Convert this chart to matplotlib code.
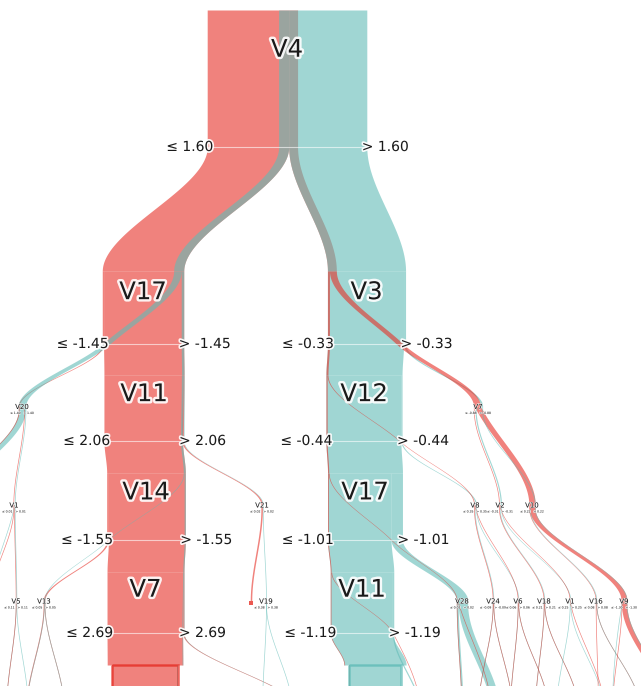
import numpy as np
import matplotlib.pyplot as plt
import matplotlib.patheffects as pe
from matplotlib.patches import Rectangle

# ── tree: first child of a node is the "≤" branch, second the ">" branch ──
names = ["V4",
         "V17", "V3",
         "V20", "V11", "V12", "V7",
         "V27", "V1", "V14", "V21", "V17", "V8", "V2", "V10",
         "V26", "V5", "V13", "V7", "V9", "V19", "V11", "V28", "V24", "V6",
         "V18", "V1", "V16", "V9"] + [""] * 24
thresholds = [1.60,
              -1.45, -0.33,
              1.40, 2.06, -0.44, -0.88,
              0.36, 0.01, -1.55, 0.02, -1.01, 0.35, -0.31, 0.22,
              0.04, 0.11, 0.05, 2.69, 0.44, 0.38, -1.19, 0.02, -0.09, 0.06,
              0.21, 0.25, 0.08, -1.30] + [np.nan] * 24
n_red = [538,
         485, 53,
         8, 477, 12, 41,
         5, 3, 468, 9, 7, 5, 3, 38,
         2, 1, 10, 458, 9, 0, 5, 2, 2, 3, 2, 1, 3, 35,
         1, 0, 6, 4, 450, 8, 0, 0, 3, 2, 1, 1, 1, 1, 2, 1, 1, 1, 0, 1, 2, 1, 3, 32]
n_teal = [525,
          60, 465,
          45, 15, 453, 12,
          42, 3, 12, 3, 446, 7, 7, 5,
          1, 2, 5, 7, 0, 3, 378, 68, 3, 4, 3, 4, 1, 4,
          1, 1, 2, 3, 3, 4, 1, 2, 370, 8, 12, 56, 1, 2, 1, 3, 2, 1, 3, 1, 0, 1, 3, 1]
parents = [-1,
           0, 0,
           1, 1, 2, 2,
           3, 3, 4, 4, 5, 5, 6, 6,
           8, 8, 9, 9, 10, 10, 11, 11, 12, 12, 13, 13, 14, 14,
           16, 16, 17, 17, 18, 18, 20, 20, 21, 21, 22, 22, 23, 23, 24, 24,
           25, 25, 26, 26, 27, 27, 28, 28]

# layout: horizontal centre of every node
node_x = [287,
          143, 366.5,
          22, 144, 364, 478,
          -45, 14, 146, 262, 365, 475, 500, 532,
          -10, 16, 44, 145.5, 251, 266, 362, 462, 493, 518, 544, 570, 596, 624,
          6, 28, 26, 64, 145, 300, 262, 292, 375, 420, 462, 495,
          478, 512, 510, 548, 535, 578, 556, 604, 598, 640, 612, 668]

RED = "#e62f26"
TEAL = "#61bcb7"
ALPHA = 0.6
SCALE = 0.168         # pixels per sample
MIN_W = 0.7
BIG = 200             # nodes at least this large get a full column
MIXED = 0.2           # minority share above which the classes sit side by side
LEAF_INSET = 5
DEPTH_TOP = [10, 271, 375, 473, 572, 665]
DEPTH_SPLIT = [147, 344, 441, 540, 633, 760]
BOTTOM = 800
TEXT = "#1a1a1a"


def width(n):
    if n <= 0:
        return 0.0
    return max(n * SCALE, MIN_W)


def hermite(y0, y1, x0, x1, m0, m1, num=40):
    y = np.linspace(y0, y1, num)
    h = y1 - y0
    t = (y - y0) / h
    x = ((2 * t**3 - 3 * t**2 + 1) * x0 + (t**3 - 2 * t**2 + t) * h * m0
         + (-2 * t**3 + 3 * t**2) * x1 + (t**3 - t**2) * h * m1)
    return y, x


def band_curve(ya, yb, yc, xa, xb, xc):
    """Monotone spline through node top, split line and child top."""
    d1 = (xb - xa) / (yb - ya)
    d2 = (xc - xb) / (yc - yb)
    m = 0.0 if d1 * d2 <= 0 else 2.0 / (1.0 / d1 + 1.0 / d2)
    y1, x1 = hermite(ya, yb, xa, xb, 0.0, m)
    y2, x2 = hermite(yb, yc, xb, xc, m, 0.0, 90)
    return np.r_[y1, y2[1:]], np.r_[x1, x2[1:]]


n_nodes = len(names)
depth = [0] * n_nodes
children = [[] for _ in range(n_nodes)]
for i in range(1, n_nodes):
    depth[i] = depth[parents[i]] + 1
    children[parents[i]].append(i)

# node widths, bottom-up: a clear majority swallows the minority band
total_w = [0.0] * n_nodes
for i in reversed(range(n_nodes)):
    wr, wt = width(n_red[i]), width(n_teal[i])
    share = min(n_red[i], n_teal[i]) / (n_red[i] + n_teal[i])
    if not children[i] or share < MIXED:
        total_w[i] = max(wr, wt)
    else:
        total_w[i] = sum(total_w[c] for c in children[i])

big = [n_red[i] + n_teal[i] >= BIG for i in range(n_nodes)]
top, split, mid = [], [], []
for i in range(n_nodes):
    d = depth[i]
    m = (DEPTH_TOP[d] + DEPTH_SPLIT[d]) / 2
    mid.append(m)
    if big[i]:
        top.append(DEPTH_TOP[d])
        split.append(DEPTH_SPLIT[d])
    else:
        top.append(m - 2)
        split.append(m + 2)
left = [node_x[i] - total_w[i] / 2 for i in range(n_nodes)]


def teal_offset(c):
    return total_w[c] - width(n_teal[c])


fig = plt.figure(figsize=(6.41, 6.86), dpi=100)
ax = fig.add_axes([0, 0, 1, 1])
ax.set_xlim(0, 641)
ax.set_ylim(686, 0)
ax.axis("off")

# ── flows ──
for i in range(n_nodes):
    xl, W = left[i], total_w[i]
    if not children[i]:
        if big[i]:
            bl, bw = xl + LEAF_INSET, W - 2 * LEAF_INSET
            wr, wt = width(n_red[i]), width(n_teal[i])
            ax.fill_betweenx([top[i], BOTTOM], bl, bl + min(wr, bw), color=RED,
                             alpha=ALPHA, lw=0)
            ax.fill_betweenx([top[i], BOTTOM], bl + bw - min(wt, bw), bl + bw, color=TEAL,
                             alpha=ALPHA, lw=0)
            edge = RED if n_red[i] > n_teal[i] else TEAL
            ax.add_patch(Rectangle((bl, top[i]), bw, BOTTOM - top[i], fill=False,
                                   edgecolor=edge, lw=1.8, alpha=0.75))
        else:
            col = RED if n_red[i] >= n_teal[i] else TEAL
            ax.add_patch(Rectangle((node_x[i] - 2, mid[i] - 2), 4, 4, color=col,
                                   alpha=0.8, lw=0))
        continue

    lc, rc = children[i]
    w_rl, w_rr = width(n_red[lc]), width(n_red[rc])
    w_tl, w_tr = width(n_teal[lc]), width(n_teal[rc])
    right_start = xl + W - total_w[rc]
    bands = [
        (RED, w_rl, xl, xl, left[lc], lc),
        (RED, w_rr, xl + w_rl, right_start, left[rc], rc),
        (TEAL, w_tl, xl + W - w_tr - w_tl, xl + teal_offset(lc),
         left[lc] + teal_offset(lc), lc),
        (TEAL, w_tr, xl + W - w_tr, right_start + teal_offset(rc),
         left[rc] + teal_offset(rc), rc),
    ]
    # the node's majority class goes down first, its minority streams on top
    majority = RED if n_red[i] >= n_teal[i] else TEAL
    order = sorted(bands, key=lambda b: b[0] != majority)
    for color, w, xa, xb, xc, c in order:
        if w == 0:
            continue
        y, x = band_curve(top[i], split[i], top[c], xa, xb, xc)
        ax.fill_betweenx(y, x, x + w, color=color, alpha=ALPHA, lw=0)

# ── split lines and labels ──
big_halo = [pe.withStroke(linewidth=3.5, foreground="white", alpha=0.9)]
halo = [pe.withStroke(linewidth=2.5, foreground="white", alpha=0.9)]
small_halo = [pe.withStroke(linewidth=0.8, foreground="white", alpha=0.8)]

for i in range(n_nodes):
    if not children[i]:
        continue
    t = thresholds[i]
    xl, xr = left[i], left[i] + total_w[i]
    if big[i]:
        ax.plot([xl, xr], [split[i], split[i]], color="white", lw=0.8, alpha=0.6)
        name_y = top[i] + 0.29 * (split[i] - top[i])
        ax.text(node_x[i], name_y, names[i], ha="center", va="center", fontsize=17.5,
                color=TEXT, path_effects=big_halo)
        ax.text(xl + 6, split[i], f"≤ {t:.2f}", ha="right", va="center", fontsize=10,
                color=TEXT, path_effects=halo)
        ax.text(xr - 5, split[i], f"> {t:.2f}", ha="left", va="center", fontsize=10,
                color=TEXT, path_effects=halo)
    else:
        ax.text(node_x[i], mid[i] - 1, names[i], ha="center", va="center", fontsize=5,
                color=TEXT, path_effects=small_halo)
        ax.text(node_x[i] - 1.5, mid[i] + 5, f"≤ {t:.2f}", ha="right", va="center",
                fontsize=2.2, color=TEXT, path_effects=small_halo)
        ax.text(node_x[i] + 1.5, mid[i] + 5, f"> {t:.2f}", ha="left", va="center",
                fontsize=2.2, color=TEXT, path_effects=small_halo)

fig.savefig("out.png", dpi=100)
